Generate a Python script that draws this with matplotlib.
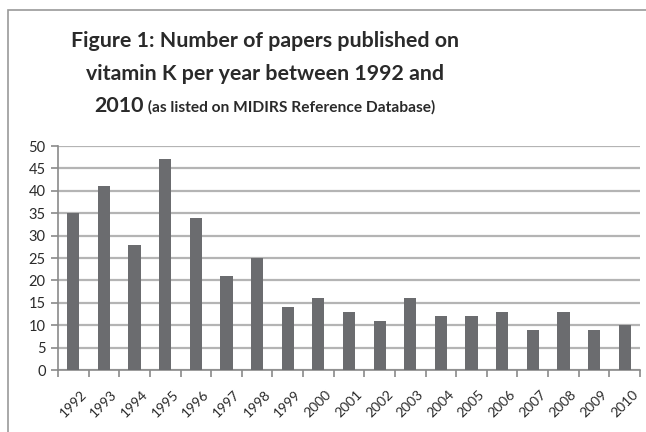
import matplotlib
matplotlib.use("Agg")
import matplotlib.pyplot as plt
from matplotlib.patches import Rectangle
import matplotlib.transforms as mtransforms

years = ["1992", "1993", "1994", "1995", "1996", "1997", "1998", "1999", "2000",
         "2001", "2002", "2003", "2004", "2005", "2006", "2007", "2008", "2009", "2010"]
papers = [35, 41, 28, 47, 34, 21, 25, 14, 16, 13, 11, 16, 12, 12, 13, 9, 13, 9, 10]
y_ticks = [0, 5, 10, 15, 20, 25, 30, 35, 40, 45, 50]

title_lines = ["Figure 1: Number of papers published on",
               "vitamin K per year between 1992 and"]
title_year = "2010"
title_note = " (as listed on MIDIRS Reference Database)"

FONT = ["Lato", "DejaVu Sans"]
BAR = "#6b6c6f"
GRID = "#b4b4b4"
TEXT = "#2a2a2a"
W, H = 646, 432

fig = plt.figure(figsize=(W / 100, H / 100), dpi=100)
fig.patch.set_facecolor("white")

# outer chart frame
fig.patches.append(Rectangle((8 / W, -0.1), 1.2, 1.0 - 10 / H + 0.1,
                             transform=fig.transFigure, fill=False,
                             edgecolor="#9a9a9a", linewidth=1.2))

ax = fig.add_axes([58 / W, 62 / H, 582 / W, 224 / H])
x = list(range(len(years)))
ax.bar(x, papers, width=0.4, color=BAR, zorder=3)

ax.set_xlim(-0.5, len(years) - 0.5)
ax.set_ylim(0, 50)
ax.set_yticks(y_ticks)
ax.set_yticklabels([str(v) for v in y_ticks], family=FONT, fontsize=10.5, color=TEXT)
ax.yaxis.grid(True, color=GRID, linewidth=1.6, zorder=0)
ax.set_axisbelow(True)

# category boundary ticks on x axis, labels centred under bars
ax.set_xticks([i - 0.5 for i in range(len(years) + 1)])
ax.set_xticklabels([])
ax.set_xticks(x, minor=True)
ax.set_xticklabels(years, minor=True, rotation=45, ha="right",
                   rotation_mode="anchor", family=FONT, fontsize=10, color=TEXT)
ax.tick_params(axis="x", which="minor", length=0, pad=13)
ax.tick_params(axis="x", which="major", length=5, color="#8a8a8a", width=1.2)
ax.tick_params(axis="y", length=5, color="#8a8a8a", width=1.2, pad=4)
offset = mtransforms.ScaledTranslation(5 / 72, 0, fig.dpi_scale_trans)
for lbl in ax.get_xticklabels(minor=True):
    lbl.set_transform(lbl.get_transform() + offset)

for side in ("top", "right"):
    ax.spines[side].set_visible(False)
for side in ("left", "bottom"):
    ax.spines[side].set_color("#8a8a8a")
    ax.spines[side].set_linewidth(1.2)

# title, three lines centred over the plot
cx = 265 / W
baselines = [47, 80, 112]
for line, yb in zip(title_lines, baselines[:2]):
    fig.text(cx, 1 - yb / H, line, ha="center", va="baseline", family=FONT,
             fontweight="bold", fontsize=15.4, color=TEXT)
t_year = fig.text(0, 1 - baselines[2] / H, title_year, ha="left", va="baseline",
                  family=FONT, fontweight="bold", fontsize=15.4, color=TEXT)
t_note = fig.text(0, 1 - baselines[2] / H, title_note, ha="left", va="baseline",
                  family=FONT, fontweight="bold", fontsize=11.2, color=TEXT)
fig.canvas.draw()
w_year = t_year.get_window_extent().width
w_note = t_note.get_window_extent().width
x0 = cx * W - (w_year + w_note) / 2
t_year.set_x(x0 / W)
t_note.set_x((x0 + w_year) / W)

fig.savefig("out.png", dpi=100)
